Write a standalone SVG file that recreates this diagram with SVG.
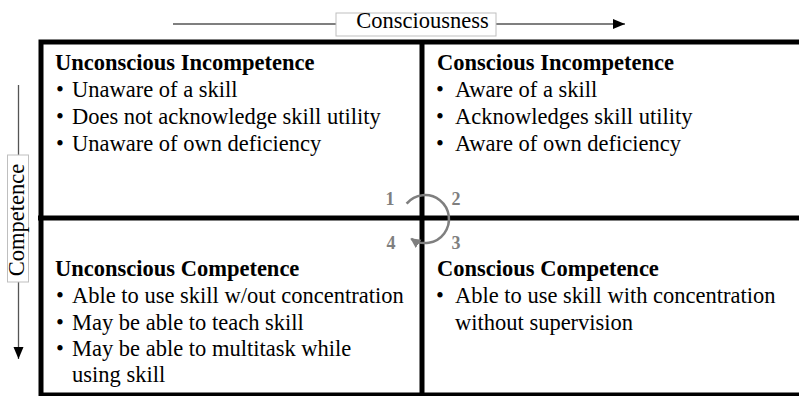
<svg xmlns="http://www.w3.org/2000/svg" width="799" height="396" viewBox="0 0 799 396">
  <style>
    .t { font-family: "Liberation Serif", "Times New Roman", serif; font-size: 22.5px; fill: #000; }
    .h { font-weight: bold; }
    .num { font-family: "Liberation Serif", "Times New Roman", serif; font-size: 18px; font-weight: bold; fill: #7f7f7f; }
    .grid { fill: none; stroke: #000; stroke-width: 5; }
    .axis { stroke: #555; stroke-width: 1.3; fill: none; }
    .lbl { fill: #fff; stroke: #bfbfbf; stroke-width: 1; }
    .loop { fill: none; stroke: #7f7f7f; stroke-width: 2.5; }
  </style>
  <defs>
    <marker id="axisHead" markerUnits="userSpaceOnUse" markerWidth="12" markerHeight="12" refX="12" refY="5" orient="auto">
      <path d="M0,0 L12,5 L0,10 Z" fill="#000"/>
    </marker>
    <marker id="loopHead" markerUnits="userSpaceOnUse" markerWidth="12" markerHeight="12" refX="9" refY="5" orient="auto">
      <path d="M0,0 L10,5 L0,10 Z" fill="#7f7f7f"/>
    </marker>
  </defs>

  <rect width="799" height="396" fill="#fff"/>

  <!-- horizontal axis: Consciousness -->
  <g id="axis-consciousness">
    <line class="axis" x1="173" y1="24" x2="625" y2="24" marker-end="url(#axisHead)"/>
    <rect class="lbl" x="336" y="13" width="160" height="23"/>
    <text class="t" x="422.5" y="28" text-anchor="middle">Consciousness</text>
  </g>

  <!-- vertical axis: Competence -->
  <g id="axis-competence">
    <line class="axis" x1="18.5" y1="85" x2="18.5" y2="359" marker-end="url(#axisHead)"/>
    <rect class="lbl" x="7.5" y="155" width="21" height="127"/>
    <text class="t" transform="translate(24,220) rotate(-90)" text-anchor="middle">Competence</text>
  </g>

  <!-- 2x2 grid frame -->
  <g id="grid">
    <rect class="grid" x="41" y="42" width="762" height="353"/>
    <line class="grid" x1="422" y1="40" x2="422" y2="396"/>
    <line class="grid" x1="38" y1="218" x2="799" y2="218"/>
  </g>

  <g id="unconscious-incompetence">
    <text class="t h" x="55" y="70">Unconscious Incompetence</text>
    <text class="t" x="56" y="97">•</text>
    <text class="t" x="72" y="97">Unaware of a skill</text>
    <text class="t" x="56" y="124">•</text>
    <text class="t" x="72" y="124">Does not acknowledge skill utility</text>
    <text class="t" x="56" y="151">•</text>
    <text class="t" x="72" y="151">Unaware of own deficiency</text>
  </g>

  <g id="conscious-incompetence">
    <text class="t h" x="437" y="70">Conscious Incompetence</text>
    <text class="t" x="436" y="97">•</text>
    <text class="t" x="455" y="97">Aware of a skill</text>
    <text class="t" x="436" y="124">•</text>
    <text class="t" x="455" y="124">Acknowledges skill utility</text>
    <text class="t" x="436" y="151">•</text>
    <text class="t" x="455" y="151">Aware of own deficiency</text>
  </g>

  <g id="unconscious-competence">
    <text class="t h" x="55" y="276">Unconscious Competence</text>
    <text class="t" x="56" y="303">•</text>
    <text class="t" x="72" y="303">Able to use skill w/out concentration</text>
    <text class="t" x="56" y="329.5">•</text>
    <text class="t" x="72" y="329.5">May be able to teach skill</text>
    <text class="t" x="56" y="356">•</text>
    <text class="t" x="72" y="356">May be able to multitask while</text>
    <text class="t" x="72" y="382">using skill</text>
  </g>

  <g id="conscious-competence">
    <text class="t h" x="437" y="276">Conscious Competence</text>
    <text class="t" x="436" y="303">•</text>
    <text class="t" x="455" y="303">Able to use skill with concentration</text>
    <text class="t" x="455" y="329.5">without supervision</text>
  </g>

  <!-- stage cycle loop with step numbers -->
  <g id="connectors">
    <path class="loop" d="M406.6,203.6 A24,24 0 1 1 411.2,238.7" marker-end="url(#loopHead)"/>
  </g>
  <g id="steps">
    <text class="num" x="390" y="205" text-anchor="middle">1</text>
    <text class="num" x="456" y="205" text-anchor="middle">2</text>
    <text class="num" x="456" y="249" text-anchor="middle">3</text>
    <text class="num" x="391" y="249" text-anchor="middle">4</text>
  </g>
</svg>
